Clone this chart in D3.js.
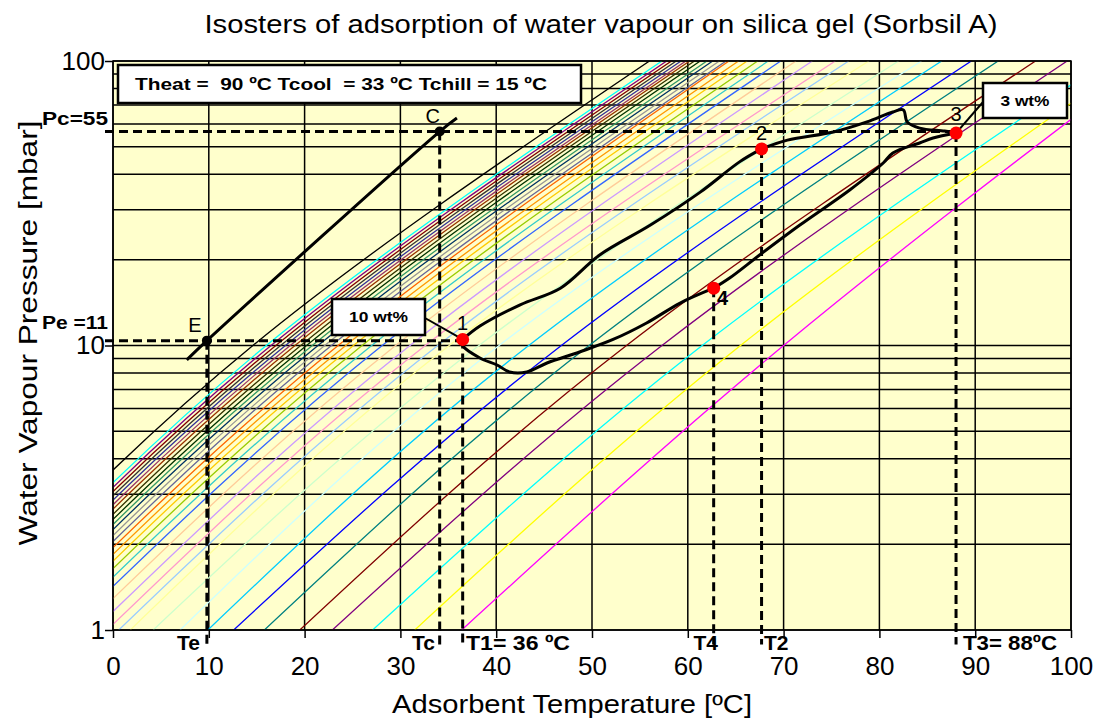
<!DOCTYPE html>
<html>
<head>
<meta charset="utf-8">
<script src="https://cdn.jsdelivr.net/npm/d3@7"></script>
<style>
  body { margin: 0; background: #fff; }
  svg { display: block; font-family: "Liberation Sans", Arial, sans-serif; }
  text { white-space: pre; }
</style>
</head>
<body>
<svg id="chart" width="1099" height="718"></svg>
<script>
// isosteres, listed from low loading (right) to high loading (left)
// each one read where it crosses 1, 10 and 100 mbar
const isoColors = [
  '#FF00FF', '#FFFF00', '#00FFFF', '#800080', '#800000', '#008080', '#0000FF', '#00CCFF',
  '#CCFFFF', '#CCFFCC', '#FFFF99', '#99CCFF', '#FF99CC',
  '#CC99FF', '#FFCC99', '#3366FF', '#33CCCC', '#99CC00', '#FFCC00', '#FF9900', '#FF6600',
  '#666699', '#969696', '#003366', '#339966', '#003300', '#333300', '#993300', '#993366',
  '#333399', '#333333', '#800000', '#800080', '#00FFFF', '#000000'
];
const isoT1 = [36.4, 31.5, 27.1, 22.9, 19.5, 15.8, 12.6, 9.9, 7.0, 4.2, 1.8, 0.6, -0.6,
  -2.0, -3.4, -4.7, -5.7, -6.6, -7.4, -8.1, -8.8, -9.4, -10.0, -10.6, -11.1, -11.6,
  -12.1, -12.6, -13.0, -13.5, -13.9, -14.3, -14.7, -15.2, -16.5];
const isoT10 = [70.0, 65.5, 61.5, 57.3, 53.6, 49.7, 46.8, 43.4, 40.3, 38.2, 35.1, 33.9, 32.6,
  31.0, 29.5, 28.1, 27.0, 26.0, 25.1, 24.3, 23.5, 22.8, 22.1, 21.4, 20.8, 20.2,
  19.6, 19.0, 18.5, 18.0, 17.5, 17.0, 16.5, 16.0, 14.6];
const isoT100 = [108.0, 106.3, 103.7, 99.6, 96.3, 92.4, 89.6, 86.5, 84.4, 82.0, 78.9, 76.8, 75.4,
  73.0, 71.3, 69.7, 68.4, 67.3, 66.2, 65.3, 64.3, 64.0, 63.3, 62.6, 62.0, 61.3,
  60.7, 60.2, 59.8, 59.3, 58.8, 58.3, 57.8, 57.3, 56.0];

const xTicks = [0, 10, 20, 30, 40, 50, 60, 70, 80, 90, 100];
const yTicks = [1, 10, 100];
const yGrid = [1, 2, 3, 4, 5, 6, 7, 8, 9, 10, 20, 30, 40, 50, 60, 70, 80, 90, 100];

// water saturation line through E and C
const satT = [7.7, 9.8, 34.1, 35.9];
const satP = [8.9, 10.4, 56.5, 63.0];

// cycle 1 -> 2 -> 3 -> 4 -> 1
const upperT = [36.5, 38.3, 42.5, 46.7, 50.8, 56.1, 61.3, 65.4, 67.7];
const upperP = [10.5, 11.7, 13.9, 15.9, 20.8, 26.5, 34.6, 44.2, 49.1];
const topT = [67.7, 70.4, 75.2, 78.7, 81.4, 82.5, 82.9, 84.2, 86.8, 88.0];
const topP = [49.1, 52.7, 56.3, 61.1, 66.2, 67.3, 61.1, 58.1, 56.7, 55.8];
const downT = [88.0, 85.6, 84.2, 81.4, 80.4, 76.9, 71.7, 67.5, 64.4, 62.7];
const downP = [55.8, 53.6, 51.5, 47.5, 43.8, 35.2, 26.5, 20.8, 17.3, 15.9];
const lowerT = [62.7, 59.2, 55.7, 52.2, 48.7, 45.3, 43.2, 41.4, 40.1, 38.3, 36.5, 36.5];
const lowerP = [15.9, 14.1, 12.0, 10.5, 9.49, 8.68, 8.07, 8.07, 8.54, 9.04, 10.0, 10.5];

const stateNames = ['1', '2', '3', '4'];
const stateT = [36.5, 67.7, 88.0, 62.7];
const stateP = [10.5, 49.1, 55.8, 15.9];
const condNames = ['E', 'C'];
const condT = [9.8, 34.1];
const condP = [10.4, 56.5];
const Pe = 10.4, Pc = 56.5;

const x = d3.scaleLinear().domain([0, 100]).range([113, 1071]);
const y = d3.scaleLog().domain([1, 100]).range([630, 61]);
const font = '"Liberation Sans", Arial, sans-serif';

const svg = d3.select('#chart');

svg.append('defs')
    .append('clipPath')
    .attr('id', 'plot')
    .append('rect')
    .attr('x', x(0))
    .attr('y', y(100))
    .attr('width', x(100) - x(0))
    .attr('height', y(1) - y(100));

svg.append('rect')
    .attr('x', x(0))
    .attr('y', y(100))
    .attr('width', x(100) - x(0))
    .attr('height', y(1) - y(100))
    .attr('fill', '#FFFFCC');

// grid
const grid = svg.append('g').attr('stroke', '#000').attr('stroke-width', 1.5);
grid.selectAll('line.v')
    .data(xTicks)
    .join('line')
    .attr('class', 'v')
    .attr('x1', d => x(d)).attr('x2', d => x(d))
    .attr('y1', y(1)).attr('y2', y(100));
grid.selectAll('line.h')
    .data(yGrid)
    .join('line')
    .attr('class', 'h')
    .attr('x1', x(0)).attr('x2', x(100))
    .attr('y1', d => y(d)).attr('y2', d => y(d));

// isosteres
const isoLine = d3.line()
    .x(d => x(d[0]))
    .y(d => y(d[1]))
    .curve(d3.curveNatural);

svg.append('g')
    .attr('clip-path', 'url(#plot)')
    .selectAll('path')
    .data(isoT10.map((t, i) => [[isoT1[i], 1], [t, 10], [isoT100[i], 100]]))
    .join('path')
    .attr('d', isoLine)
    .attr('fill', 'none')
    .attr('stroke', (d, i) => isoColors[i])
    .attr('stroke-width', 1.3);

// frame
svg.append('rect')
    .attr('x', x(0))
    .attr('y', y(100))
    .attr('width', x(100) - x(0))
    .attr('height', y(1) - y(100))
    .attr('fill', 'none')
    .attr('stroke', '#000')
    .attr('stroke-width', 1.5);

// axes
const xAxis = d3.axisBottom(x).tickValues(xTicks).tickSize(8).tickPadding(19).tickFormat(d3.format('d'));
const yAxis = d3.axisLeft(y).tickValues(yTicks).tickSize(8).tickPadding(0).tickFormat(d3.format('d'));

svg.append('g')
    .attr('transform', `translate(0,${y(1)})`)
    .call(xAxis)
    .call(g => g.select('.domain').remove())
    .attr('font-size', 26).attr('font-family', font)
    .call(g => g.selectAll('line').attr('stroke', '#000').attr('stroke-width', 1.5))
    .call(g => g.selectAll('text').attr('fill', '#000'));

svg.append('g')
    .attr('transform', `translate(${x(0)},0)`)
    .call(yAxis)
    .call(g => g.select('.domain').remove())
    .attr('font-size', 26).attr('font-family', font)
    .call(g => g.selectAll('line').attr('stroke', '#000').attr('stroke-width', 1.5))
    .call(g => g.selectAll('text').attr('fill', '#000'));

// dashed guides
const dash = svg.append('g')
    .attr('stroke', '#000')
    .attr('stroke-width', 3)
    .attr('stroke-dasharray', '9,5')
    .attr('fill', 'none');
dash.append('line').attr('x1', 105).attr('x2', x(stateT[0])).attr('y1', y(Pe)).attr('y2', y(Pe));
dash.append('line').attr('x1', 105).attr('x2', x(stateT[2])).attr('y1', y(Pc)).attr('y2', y(Pc));
const dropT = [condT[0], condT[1], ...stateT];
const dropP = [condP[0], condP[1], ...stateP];
dash.selectAll('line.drop')
    .data(dropT)
    .join('line')
    .attr('class', 'drop')
    .attr('x1', d => x(d)).attr('x2', d => x(d))
    .attr('y1', (d, i) => y(dropP[i]))
    .attr('y2', y(0.89));

// saturation line and cycle
const pathLine = d3.line()
    .x(d => x(d[0]))
    .y(d => y(d[1]))
    .curve(d3.curveCatmullRom.alpha(0.5));

const bold = svg.append('g')
    .attr('clip-path', 'url(#plot)')
    .attr('fill', 'none')
    .attr('stroke', '#000')
    .attr('stroke-width', 3)
    .attr('stroke-linejoin', 'round');
[[satT, satP], [upperT, upperP], [topT, topP], [downT, downP], [lowerT, lowerP]].forEach(([ts, ps]) => {
  bold.append('path').attr('d', pathLine(ts.map((t, i) => [t, ps[i]])));
});

// leaders to the loading boxes
bold.append('line')
    .attr('x1', 425).attr('y1', 318)
    .attr('x2', x(stateT[0])).attr('y2', y(stateP[0]))
    .attr('stroke-width', 2);
bold.append('line')
    .attr('x1', x(stateT[2])).attr('y1', y(stateP[2]))
    .attr('x2', 983).attr('y2', 102)
    .attr('stroke-width', 2);

// points
svg.append('g').selectAll('circle')
    .data(condT)
    .join('circle')
    .attr('cx', d => x(d))
    .attr('cy', (d, i) => y(condP[i]))
    .attr('r', 5)
    .attr('fill', '#000');
svg.append('g').selectAll('circle')
    .data(stateT)
    .join('circle')
    .attr('cx', d => x(d))
    .attr('cy', (d, i) => y(stateP[i]))
    .attr('r', 6.5)
    .attr('fill', '#FF0000');

function text(str, px, py, size, weight, anchor, len) {
  const t = svg.append('text')
      .attr('x', px).attr('y', py)
      .attr('font-size', size)
      .attr('font-weight', weight)
      .attr('text-anchor', anchor)
      .attr('fill', '#000')
      .text(str);
  if (len) t.attr('textLength', len).attr('lengthAdjust', 'spacingAndGlyphs');
  return t;
}

// point names
const nameDx = [0, 0, 0, 9];
const nameDy = [-9, -9, -12, 17];
stateNames.forEach((n, i) => {
  text(n, x(stateT[i]) + nameDx[i], y(stateP[i]) + nameDy[i], 20, n === '4' ? 'bold' : 'normal', 'middle');
});
text(condNames[0], x(condT[0]) - 12, y(condP[0]) - 9, 20, 'normal', 'middle');
text(condNames[1], x(condT[1]) - 7, y(condP[1]) - 9, 20, 'normal', 'middle');

// pressure labels
text('Pc=55', 42, 125, 19, 'bold', 'start', 66);
text('Pe =11', 42, 329, 19, 'bold', 'start', 66);

// temperature labels under the axis
text('Te', 200, 650, 21, 'bold', 'end');
text('Tc', 435, 650, 21, 'bold', 'end');
text('T1= 36 ºC', 466, 650, 21, 'bold', 'start', 104);
text('T4', 718, 650, 21, 'bold', 'end');
text('T2', 764, 650, 21, 'bold', 'start');
text('T3= 88ºC', 963, 650, 21, 'bold', 'start', 94);

// boxes
function box(bx, by, bw, bh, str, size, len, tx) {
  svg.append('rect')
      .attr('x', bx).attr('y', by).attr('width', bw).attr('height', bh)
      .attr('fill', '#fff').attr('stroke', '#000').attr('stroke-width', 2.5);
  text(str, tx === undefined ? bx + bw / 2 : tx, by + bh / 2 + size * 0.36, size,
      'bold', tx === undefined ? 'middle' : 'start', len);
}
box(118, 65, 463, 38, 'Theat =  90 ºC Tcool  = 33 ºC Tchill = 15 ºC', 17, 412, 135);
box(332, 299, 93, 36, '10 wt%', 15, 59);
box(983, 83, 84, 35, '3 wt%', 15, 49);

// titles
text('Isosters of adsorption of water vapour on silica gel (Sorbsil A)', 601, 33, 26, 'normal', 'middle', 793);
text('Adsorbent Temperature [ºC]', 572, 713, 25, 'normal', 'middle', 360);
text('Water Vapour Pressure [mbar]', 0, 0, 25, 'normal', 'middle', 425)
    .attr('transform', 'translate(37,333) rotate(-90)');
</script>
</body>
</html>
